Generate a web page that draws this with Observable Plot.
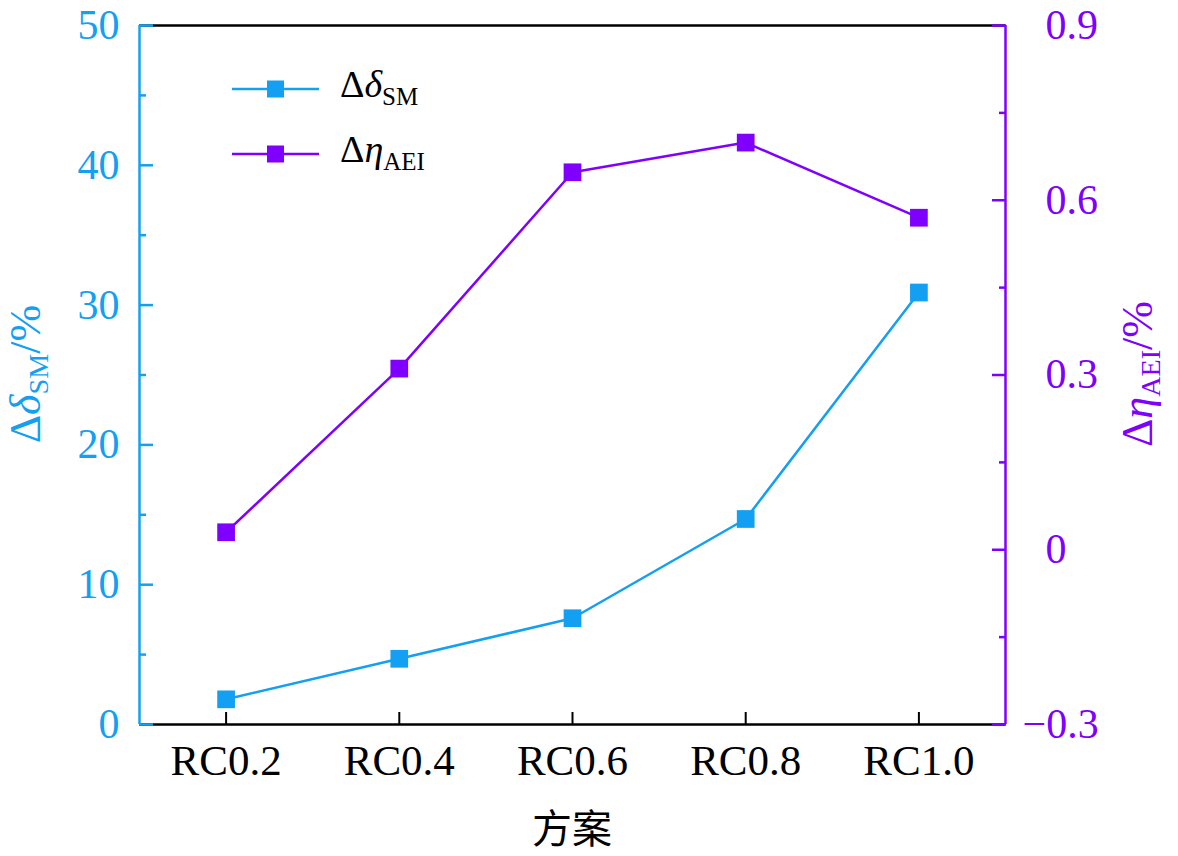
<!DOCTYPE html>
<html>
<head>
<meta charset="utf-8">
<script src="https://cdn.jsdelivr.net/npm/d3@7"></script>
<script src="https://cdn.jsdelivr.net/npm/@observablehq/plot@0.6"></script>
<style>
  html, body { margin: 0; padding: 0; background: #fff; }
  #chart { position: relative; width: 1178px; height: 856px; }
</style>
</head>
<body>
<div id="chart"></div>
<script>
const categories = ["RC0.2", "RC0.4", "RC0.6", "RC0.8", "RC1.0"];
const deltaSM = [1.8, 4.7, 7.6, 14.7, 30.9];
const deltaAEI = [0.03, 0.311, 0.648, 0.699, 0.570];
const leftTicks = [0, 10, 20, 30, 40, 50];
const leftMinor = [5, 15, 25, 35, 45];
const rightTicks = [-0.3, 0, 0.3, 0.6, 0.9];
const rightMinor = [-0.15, 0.15, 0.45, 0.75];

const BLUE = "#14A0F2";
const PURPLE = "#8000FF";
const SERIF = "'Liberation Serif', 'Times New Roman', serif";

// right axis [-0.3, 0.9] mapped onto left scale [0, 50]
const rMin = -0.3, rMax = 0.9;
const toLeft = v => (v - rMin) / (rMax - rMin) * 50;

const idx = categories.map((_, i) => i + 1);
const smData = categories.map((c, i) => ({x: i + 1, y: deltaSM[i]}));
const aeiData = categories.map((c, i) => ({x: i + 1, y: toLeft(deltaAEI[i])}));

const fmtR = v => (v < 0 ? "\u2212" + Math.abs(v) : String(v));

const plot = Plot.plot({
  width: 1178,
  height: 856,
  marginLeft: 139,
  marginRight: 173,
  marginTop: 25,
  marginBottom: 132,
  style: {fontFamily: SERIF, background: "white", overflow: "visible"},
  x: {type: "linear", domain: [0.5, 5.5]},
  y: {type: "linear", domain: [0, 50]},
  marks: [
    // frame lines
    Plot.ruleY([0], {stroke: "black", strokeWidth: 2.5}),
    Plot.ruleY([50], {stroke: "black", strokeWidth: 2.5}),
    Plot.ruleX([0.5], {stroke: BLUE, strokeWidth: 2.5}),
    Plot.ruleX([5.5], {stroke: PURPLE, strokeWidth: 2.5}),
    // x axis
    Plot.axisX({ticks: idx, tickFormat: i => categories[i - 1], tickSize: -12, tickPadding: 32,
      fontSize: 43, color: "black", strokeWidth: 2, label: null}),
    // left axis
    Plot.axisY({ticks: leftTicks, tickSize: -14, tickPadding: 34, fontSize: 42,
      color: BLUE, strokeWidth: 2.5, label: null}),
    Plot.axisY({ticks: leftMinor, tickSize: -7, tickFormat: () => "", color: BLUE, strokeWidth: 2.5, label: null}),
    // right axis ticks
    Plot.axisY({anchor: "right", ticks: rightTicks.map(toLeft), tickSize: -14, tickFormat: () => "",
      color: PURPLE, strokeWidth: 2.5, label: null}),
    Plot.axisY({anchor: "right", ticks: rightMinor.map(toLeft), tickSize: -7, tickFormat: () => "",
      color: PURPLE, strokeWidth: 2.5, label: null}),
    // right tick labels
    Plot.text(rightTicks.filter(v => v >= 0), {y: v => toLeft(v), text: fmtR, frameAnchor: "right",
      dx: 40, textAnchor: "start", fill: PURPLE, fontSize: 42}),
    Plot.text(rightTicks.filter(v => v < 0), {y: v => toLeft(v), text: fmtR, frameAnchor: "right",
      dx: 17, textAnchor: "start", fill: PURPLE, fontSize: 42}),
    // series
    Plot.line(smData, {x: "x", y: "y", stroke: BLUE, strokeWidth: 2.5}),
    Plot.dot(smData, {x: "x", y: "y", symbol: "square", r: 10, fill: BLUE, stroke: null}),
    Plot.line(aeiData, {x: "x", y: "y", stroke: PURPLE, strokeWidth: 2.5}),
    Plot.dot(aeiData, {x: "x", y: "y", symbol: "square", r: 10, fill: PURPLE, stroke: null})
  ]
});

document.getElementById("chart").appendChild(plot);

const svg = d3.select(plot);

// Axis titles with subscripts
function richLabel(g, parts, size) {
  const t = g.append("text").attr("font-family", SERIF).attr("text-anchor", "middle");
  parts.forEach(p => {
    const ts = t.append("tspan").text(p.t).attr("font-size", p.sub ? size * 0.64 : size);
    if (p.it) ts.attr("font-style", "italic");
    if (p.dy) ts.attr("dy", p.dy);
  });
  return t;
}

const leftLabel = svg.append("g").attr("transform", "translate(40,374) rotate(-90)").attr("fill", BLUE);
richLabel(leftLabel, [
  {t: "\u0394"}, {t: "\u03B4", it: true}, {t: "SM", sub: true, dy: 8}, {t: "/%", dy: -8}
], 44);

const rightLabel = svg.append("g").attr("transform", "translate(1152,374) rotate(-90)").attr("fill", PURPLE);
richLabel(rightLabel, [
  {t: "\u0394"}, {t: "\u03B7", it: true}, {t: "AEI", sub: true, dy: 8}, {t: "/%", dy: -8}
], 44);

// x axis title
svg.append("text").attr("x", 572).attr("y", 843).attr("text-anchor", "middle")
  .attr("font-family", "'Noto Sans CJK SC', sans-serif").attr("font-size", 40).attr("fill", "black")
  .text("方案");

// Legend
const legendItems = [
  {color: BLUE, sym: "\u03B4", sub: "SM", y: 89},
  {color: PURPLE, sym: "\u03B7", sub: "AEI", y: 154}
];
const lg = svg.append("g").attr("text-anchor", "start");
legendItems.forEach(it => {
  lg.append("line").attr("x1", 232).attr("x2", 319).attr("y1", it.y).attr("y2", it.y)
    .attr("stroke", it.color).attr("stroke-width", 2.5);
  lg.append("rect").attr("x", 267).attr("y", it.y - 8.5).attr("width", 17).attr("height", 17).attr("fill", it.color);
  const t = lg.append("text").attr("x", 340).attr("y", it.y + 8).attr("text-anchor", "start")
    .attr("font-family", SERIF).attr("fill", "black");
  t.append("tspan").attr("font-size", 38).text("\u0394");
  t.append("tspan").attr("font-size", 38).attr("font-style", "italic").text(it.sym);
  t.append("tspan").attr("font-size", 25).attr("dy", 8).text(it.sub);
});
</script>
</body>
</html>
